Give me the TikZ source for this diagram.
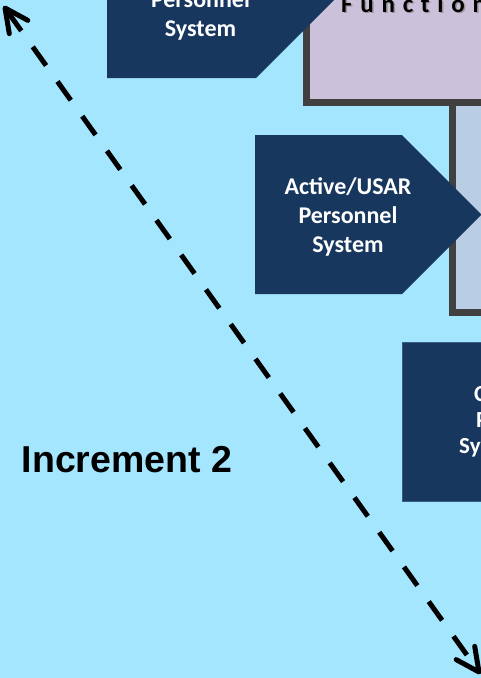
\documentclass[tikz,border=0pt]{standalone}
\usepackage{fontspec}
\usetikzlibrary{calc}
\newfontfamily\boxfont{Carlito}
\newfontfamily\titlefont[LetterSpace=31, Ligatures={NoCommon}]{Carlito}
\newfontfamily\incfont{Liberation Sans}
\definecolor{skybg}{HTML}{A5E6FF}
\definecolor{navy}{HTML}{17375E}
\definecolor{navyedge}{HTML}{385D8A}
\definecolor{lilac}{HTML}{CCC1DA}
\definecolor{paleblue}{HTML}{B9CDE5}
\definecolor{frame}{HTML}{404040}
\tikzset{
  boxtext/.style={text=white, inner sep=0pt, anchor=base,
    font={\boxfont\bfseries\fontsize{24}{29}\selectfont}},
  sidetext/.style={text=white, inner sep=0pt, anchor=base west,
    font={\boxfont\bfseries\fontsize{23}{27}\selectfont}},
  titletext/.style={inner sep=0pt, anchor=base west,
    font={\titlefont\bfseries\fontsize{25}{30}\selectfont}},
  framebox/.style={draw=frame, line width=7pt, line join=miter},
  arrowbox/.style={fill=navy},
  dashline/.style={line width=5pt, dash pattern=on 23pt off 19.6pt, dash phase=37.5pt},
  barb/.style={line width=5pt, line cap=round, line join=round},
}
\begin{document}
\begin{tikzpicture}[x=1pt, y=-1pt]
\useasboundingbox (0,0) rectangle (481,678);
\clip (0,0) rectangle (481,678);
\fill[skybg] (0,0) rectangle (481,678);

% framed function boxes on the right
\path[framebox, fill=paleblue] (452,80) rectangle (520,312.5);
\path[framebox, fill=lilac] (306,-40) rectangle (520,102.5);
\node[titletext, text=black!45, opacity=0.8] (funcsh) at (342.5,13.5) {Function};
\node[titletext, text=black] (func) at (341,12) {Function};

% system arrows feeding the boxes
\path[arrowbox] (107,-81) -- (256,-81) -- (335.5,-1.5) -- (256,78) -- (107,78) -- cycle;
\node[boxtext] (p2) at (200.5,7) {Personnel};
\node[boxtext] (p3) at (200.5,36) {System};

\path[arrowbox] (255,135) -- (402,135) -- (481.5,214.5) -- (402,294) -- (255,294) -- cycle;
\node[boxtext] (a1) at (348,194) {Active/USAR};
\node[boxtext] (a2) at (348,223) {Personnel};
\node[boxtext] (a3) at (348,252) {System};

\filldraw[fill=navy, draw=navyedge, line width=1pt] (402.5,342) rectangle (520,501.5);
\node[sidetext] (c1) at (474,401) {Civilian};
\node[sidetext] (c2) at (476,427) {Personnel};
\node[sidetext] (c3) at (459,453) {System};

% increment label
\node[inner sep=0pt, anchor=base west, font={\incfont\bfseries\fontsize{37.5}{45}\selectfont}]
  (inc) at (21.5,472) {Increment 2};

% dashed two-headed boundary arrow
\coordinate (ua) at (5,8);
\coordinate (ub) at (479,672);
\draw[dashline] (ua) -- (ub);
\draw[barb] ($(ua)!26pt!26:(ub)$) -- (ua) -- ($(ua)!26pt!-26:(ub)$);
\draw[barb] ($(ub)!26pt!26:(ua)$) -- (ub) -- ($(ub)!26pt!-26:(ua)$);
\end{tikzpicture}
\end{document}
